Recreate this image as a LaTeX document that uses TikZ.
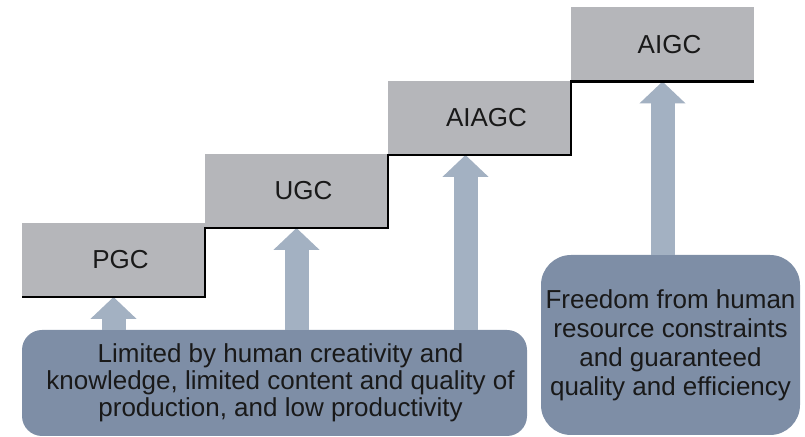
\documentclass[tikz,border=0pt]{standalone}
\usepackage{fontspec}
\setmainfont{Liberation Sans}
\usetikzlibrary{arrows.meta}
\definecolor{stepgray}{RGB}{181,182,186}
\definecolor{boxblue}{RGB}{126,142,166}
\definecolor{arrowblue}{RGB}{163,177,194}
\definecolor{txtdark}{RGB}{25,25,25}
\begin{document}
\begin{tikzpicture}[x=.5pt,y=-.5pt,
	stepbox/.style={fill=stepgray,minimum width=91.5pt,minimum height=37pt,inner sep=0pt,outer sep=0pt,text=txtdark,font=\fontsize{13pt}{14pt}\selectfont,execute at begin node=\hspace*{7pt}},
	notebox/.style={fill=boxblue,rounded corners=#1,inner sep=0pt,outer sep=0pt,align=center,text=txtdark},
	uparrow/.style={draw=arrowblue,line width=12pt,-{Triangle[width=22.5pt,length=11pt]}}]
			\useasboundingbox (0,0) rectangle (805,437);
			
			\node[stepbox] (pgc) at (113.5,260) {PGC};
			\node[stepbox] (ugc) at (296.5,191) {UGC};
			\node[stepbox] (aiagc) at (479.5,118) {AIAGC};
			\node[stepbox] (aigc) at (662.5,44.5) {AIGC};
			
			\node[notebox=10pt,minimum width=252.5pt,minimum height=53pt,font=\fontsize{13pt}{13.5pt}\selectfont] (lim) at (274.5,383)
				{\hspace*{6pt}Limited by human creativity and\\\hspace*{6pt}knowledge, limited content and quality of\\\hspace*{6pt}production, and low productivity};
			\node[notebox=15pt,minimum width=129.5pt,minimum height=90pt,font=\fontsize{13pt}{14.5pt}\selectfont] (free) at (670.5,345)
				{Freedom from human\\resource constraints\\and guaranteed\\quality and efficiency};
			
			\coordinate (a3) at ([xshift=-7pt]aiagc.south);
			\draw[uparrow] (lim.north -| pgc.south) -- (pgc.south);
			\draw[uparrow] (lim.north -| ugc.south) -- (ugc.south);
			\draw[uparrow] (lim.north -| a3) -- (a3);
			\draw[uparrow] (free.north -| aigc.south) -- (aigc.south);
			
			\draw[line width=1.25pt] (pgc.south west) -- (pgc.south east) -- (ugc.south west) -- (ugc.south east)
				-- (aiagc.south west) -- (aiagc.south east) -- (aigc.south west) -- (aigc.south east);
\end{tikzpicture}
\end{document}
